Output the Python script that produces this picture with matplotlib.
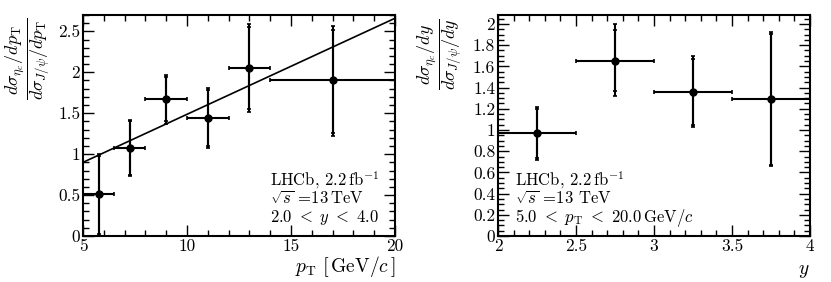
import matplotlib
matplotlib.use('Agg')
import matplotlib.pyplot as plt
from matplotlib.ticker import MultipleLocator

plt.rcParams['font.family'] = 'cmr10'
plt.rcParams['mathtext.fontset'] = 'cm'
plt.rcParams['axes.formatter.use_mathtext'] = True

# pT panel
pt_x = [5.75, 7.25, 9.0, 11.0, 13.0, 17.0]
pt_lo = [5.0, 6.5, 8.0, 10.0, 12.0, 14.0]
pt_hi = [6.5, 8.0, 10.0, 12.0, 14.0, 20.0]
pt_y = [0.51, 1.08, 1.67, 1.44, 2.05, 1.90]
pt_stat_dn = [0.49, 0.33, 0.26, 0.34, 0.50, 0.64]
pt_stat_up = [0.47, 0.32, 0.27, 0.34, 0.50, 0.62]
pt_tot_dn = [0.51, 0.35, 0.30, 0.37, 0.54, 0.68]
pt_tot_up = [0.49, 0.34, 0.30, 0.37, 0.54, 0.67]
fit_x = [5.0, 20.0]
fit_y = [0.90, 2.66]

# y panel
y_x = [2.25, 2.75, 3.25, 3.75]
y_lo = [2.0, 2.5, 3.0, 3.5]
y_hi = [2.5, 3.0, 3.5, 4.0]
y_y = [0.97, 1.65, 1.36, 1.29]
y_stat_dn = [0.23, 0.28, 0.31, 0.62]
y_stat_up = [0.23, 0.29, 0.31, 0.62]
y_tot_dn = [0.25, 0.33, 0.33, 0.63]
y_tot_up = [0.25, 0.35, 0.34, 0.63]

fig = plt.figure(figsize=(8.31, 2.82), dpi=100)
ax1 = fig.add_axes([0.0999, 0.163, 0.3755, 0.784])
ax2 = fig.add_axes([0.5993, 0.163, 0.3755, 0.784])


def draw(ax, x, lo, hi, y, sdn, sup, tdn, tup):
    xerr = [[a - b for a, b in zip(x, lo)], [b - a for a, b in zip(x, hi)]]
    ax.errorbar(x, y, xerr=xerr, yerr=[tdn, tup], fmt='o', color='black',
                ms=5, lw=1.5, capsize=1.5, capthick=1.2, clip_on=False, zorder=3)
    ax.errorbar(x, y, yerr=[sdn, sup], fmt='none', ecolor='black',
                lw=1.5, capsize=1.5, capthick=1.2, zorder=3)


def style(ax):
    ax.tick_params(which='both', direction='in', top=True, right=True,
                   labelsize=12.5, width=1, pad=2)
    ax.tick_params(which='major', length=8)
    ax.tick_params(which='minor', length=4)
    for s in ax.spines.values():
        s.set_linewidth(1.5)


def info(ax, x, lines):
    for yy, t in zip([0.23, 0.147, 0.064], lines):
        ax.text(x, yy, t, transform=ax.transAxes, fontsize=12, va='baseline')


draw(ax1, pt_x, pt_lo, pt_hi, pt_y, pt_stat_dn, pt_stat_up, pt_tot_dn, pt_tot_up)
ax1.plot(fit_x, fit_y, color='black', lw=1.2)
ax1.set_xlim(5, 20)
ax1.set_ylim(0, 2.7)
ax1.xaxis.set_minor_locator(MultipleLocator(1))
ax1.yaxis.set_minor_locator(MultipleLocator(0.1))
ax1.set_yticks([0, 0.5, 1, 1.5, 2, 2.5], ['0', '0.5', '1', '1.5', '2', '2.5'])
ax1.set_xticks([5, 10, 15, 20], ['5', '10', '15', '20'])
style(ax1)
ax1.set_xlabel(r'$p_{\mathrm{T}}\ \left[\,\mathrm{GeV}/c\,\right]$', fontsize=14, loc='right', labelpad=0)
ax1.set_ylabel(r'$\dfrac{d\sigma_{\eta_{c}}/dp_{\mathrm{T}}}{d\sigma_{J/\psi}/dp_{\mathrm{T}}}$',
               fontsize=13, loc='top')
ax1.yaxis.set_label_coords(-0.102, 0.985)
info(ax1, 0.60, [r'LHCb, 2.2$\,\mathrm{fb}^{-1}$', r'$\sqrt{s}$ =13$\,$TeV',
                 r'$2.0\ <\ y\ <\ 4.0$'])

draw(ax2, y_x, y_lo, y_hi, y_y, y_stat_dn, y_stat_up, y_tot_dn, y_tot_up)
ax2.set_xlim(2, 4)
ax2.set_ylim(0, 2.085)
ax2.xaxis.set_minor_locator(MultipleLocator(0.1))
ax2.yaxis.set_minor_locator(MultipleLocator(0.05))
ax2.set_xticks([2, 2.5, 3, 3.5, 4], ['2', '2.5', '3', '3.5', '4'])
ax2.set_yticks([0, 0.2, 0.4, 0.6, 0.8, 1, 1.2, 1.4, 1.6, 1.8, 2],
               ['0', '0.2', '0.4', '0.6', '0.8', '1', '1.2', '1.4', '1.6', '1.8', '2'])
style(ax2)
ax2.set_xlabel(r'$y$', fontsize=14, loc='right', labelpad=6)
ax2.set_ylabel(r'$\dfrac{d\sigma_{\eta_{c}}/dy}{d\sigma_{J/\psi}/dy}$',
               fontsize=13, loc='top')
ax2.yaxis.set_label_coords(-0.112, 0.985)
info(ax2, 0.055, [r'LHCb, 2.2$\,\mathrm{fb}^{-1}$', r'$\sqrt{s}$ =13 TeV',
                  r'$5.0\ <\ p_{\mathrm{T}}\ <\ 20.0\,\mathrm{GeV}/c$'])

fig.savefig('out.png', dpi=100)
